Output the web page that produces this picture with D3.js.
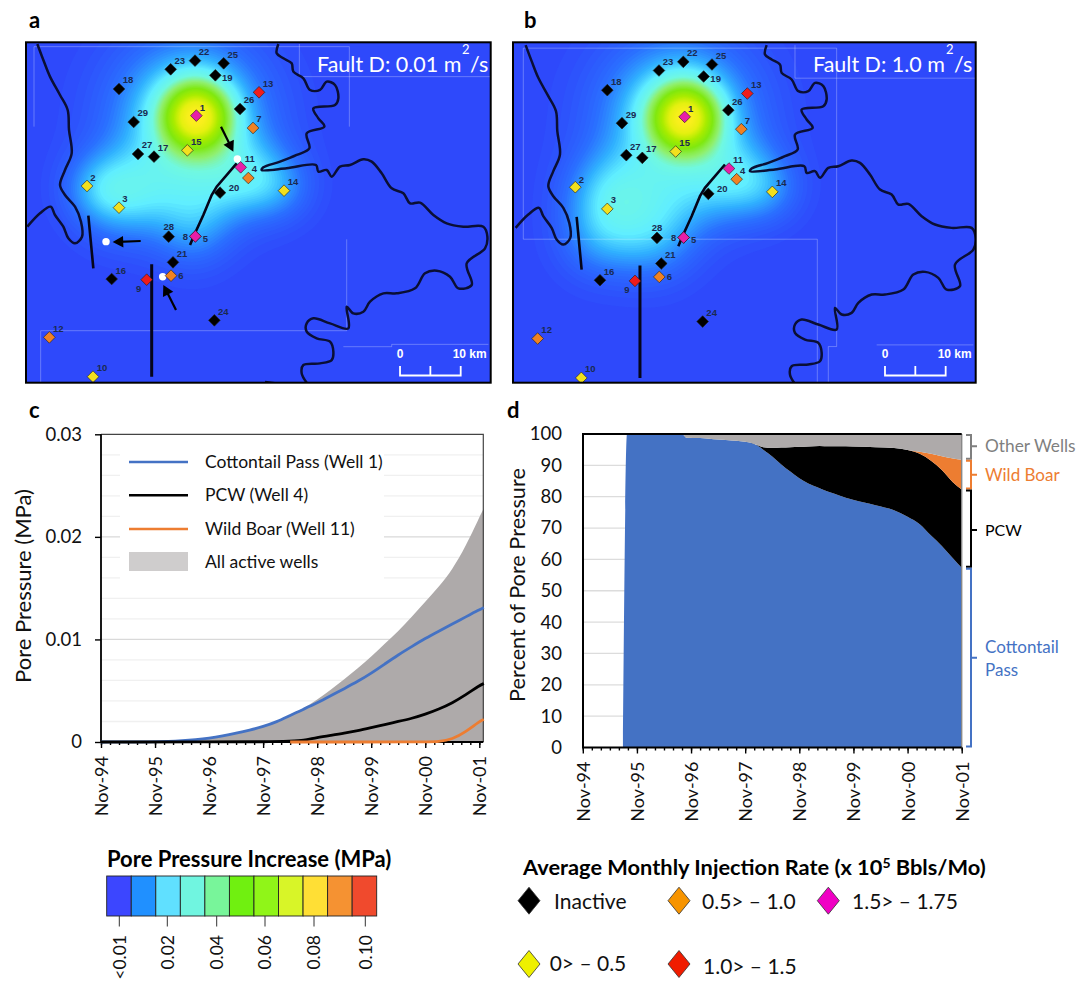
<!DOCTYPE html>
<html>
<head>
<meta charset="utf-8">
<script src="https://cdn.jsdelivr.net/npm/d3@7"></script>
<style>
  html, body { margin: 0; padding: 0; background: #fff; }
  svg { display: block; }
  text { font-family: Lato, "Open Sans", sans-serif; fill: #111; }
</style>
</head>
<body>
<svg id="fig" width="1088" height="985"></svg>
<script>
// ---- Map data (map grid units, 18.2 units = 1 km) ----
const wellIds = d3.range(1, 30);
const wellX = [529, 201, 297, 685, 526, 453, 699, 526, 380, 219, 662, 88, 717, 792, 502, 275, 402, 297, 586, 600, 459, 525, 452, 583, 611, 660, 354, 446, 341];
const wellY = [257, 468, 533, 444, 619, 737, 294, 619, 749, 1040, 412, 922, 187, 482, 361, 747, 380, 177, 136, 488, 697, 92, 118, 871, 100, 237, 372, 620, 276];
// injection class per well: 0 inactive, 1 0-0.5, 2 0.5-1.0, 3 1.0-1.5, 4 1.5-1.75
const wellClass = [4, 1, 1, 2, 4, 2, 2, 4, 3, 1, 4, 2, 3, 1, 1, 0, 0, 0, 0, 0, 0, 0, 0, 0, 0, 0, 0, 0, 0];
const classColors = ["#000000", "#f2e01e", "#f08222", "#ee1c1c", "#e81ea8"];

const coastWest = [[52, 42], [70, 90], [90, 140], [120, 195], [143, 240], [147, 300], [155, 370], [135, 420], [120, 465], [135, 495], [165, 530], [183, 575], [186, 620], [165, 640], [145, 625], [130, 590], [105, 555], [92, 530], [60, 550], [22, 590]];
const coastEast = [[775, 42], [770, 70], [790, 85], [815, 100], [820, 125], [850, 145], [870, 180], [900, 180], [920, 155], [945, 165], [955, 205], [945, 225], [880, 235], [895, 265], [913, 290], [860, 310], [868, 355], [830, 375], [780, 395], [730, 412], [725, 420], [800, 415], [888, 405], [895, 425], [920, 420], [935, 440], [960, 410], [990, 405], [1030, 388], [1055, 395], [1085, 430], [1115, 475], [1150, 490], [1170, 520], [1200, 518], [1240, 555], [1280, 580], [1330, 590], [1390, 590], [1402, 620], [1395, 655], [1340, 700], [1355, 765], [1315, 775], [1290, 740], [1250, 722], [1215, 730], [1185, 775], [1130, 790], [1090, 790], [1050, 815], [1030, 845], [1000, 850], [980, 830], [985, 895], [930, 880], [880, 865], [860, 880], [860, 905], [890, 925], [930, 935], [940, 965], [935, 990], [900, 1000], [850, 1005], [845, 1030], [860, 1058]];
const coastSouth = [[735, 1056], [770, 1060]];
const faultLines = [
  [[650, 400], [590, 470], [575, 495], [550, 555], [525, 610], [510, 645]],
  [[205, 557], [220, 715]],
  [[395, 703], [395, 1040]]
];
// pressure lobes: centre, peak (MPa), spread
const lobesA = {
  x: [529, 505, 300, 430, 680, 560, 520, 780, 230],
  y: [257, 255, 490, 470, 440, 480, 600, 470, 470],
  peak: [0.052, 0.028, 0.016, 0.009, 0.015, 0.006, 0.009, 0.008, 0.008],
  spread: [72, 150, 90, 105, 85, 90, 80, 70, 70]
};
const lobesB = {
  x: [529, 505, 300, 430, 680, 550, 430, 270, 780],
  y: [257, 255, 490, 480, 440, 500, 620, 620, 470],
  peak: [0.052, 0.028, 0.016, 0.008, 0.015, 0.005, 0.012, 0.01, 0.008],
  spread: [72, 150, 90, 105, 85, 90, 90, 85, 70]
};
const heatStops = [0, 0.008, 0.016, 0.024, 0.032, 0.04, 0.05, 0.06, 0.07, 0.08];
const heatColors = ["#2e49fb", "#2a70ff", "#30b0ff", "#60eeff", "#70f8e0", "#90f070", "#80e810", "#a8ec00", "#e4f010", "#ffee20"];
// faint rectangle edges left in the source images
const ghostA = [[[42, 290], [42, 50], [988, 50], [988, 290]], [[838, 42], [838, 140], [1412, 140]], [[980, 628], [980, 902], [62, 902], [62, 1058]], [[970, 950], [1115, 950], [1115, 943], [1405, 943]]];
const ghostB = [[[45, 51], [45, 624], [927, 624], [927, 1058]], [[45, 51], [985, 51], [985, 946], [960, 946], [960, 1058]], [[860, 42], [860, 141], [1412, 141]], [[1105, 941], [1395, 941]]];
const whiteDots = [[652, 387], [258, 635], [428, 740]];
const arrowLines = [[[603, 290], [640, 365]], [[362, 633], [278, 636]], [[468, 840], [430, 765]]];

// ---- Chart c data (months since Nov-94, MPa) ----
const dateTicks = ["Nov-94", "Nov-95", "Nov-96", "Nov-97", "Nov-98", "Nov-99", "Nov-00", "Nov-01"];
const cottonMonths = [0, 12, 15, 18, 21, 24, 27, 30, 33, 36, 39, 42, 45, 48, 51, 54, 57, 60, 63, 66, 69, 72, 75, 78, 81, 84, 85];
const cottonPressure = [0, 0.00002, 0.00005, 0.00012, 0.00022, 0.00036, 0.00058, 0.00085, 0.00115, 0.0015, 0.00195, 0.0026, 0.0032, 0.0038, 0.0045, 0.0052, 0.0059, 0.0067, 0.0076, 0.0085, 0.0093, 0.0101, 0.0108, 0.0115, 0.0122, 0.0129, 0.0131];
const allMonths = [0, 12, 15, 18, 21, 24, 27, 30, 33, 36, 39, 42, 45, 48, 51, 54, 57, 60, 63, 66, 69, 72, 75, 78, 81, 84, 85];
const allPressure = [0, 0.00002, 0.00005, 0.00012, 0.00022, 0.00036, 0.00058, 0.00085, 0.00115, 0.0015, 0.00195, 0.0026, 0.0033, 0.0041, 0.0051, 0.0061, 0.0072, 0.0083, 0.0096, 0.0108, 0.0122, 0.0137, 0.0151, 0.0168, 0.0191, 0.0219, 0.0228];
const pcwMonths = [0, 42, 45, 48, 51, 54, 57, 60, 63, 66, 69, 72, 75, 78, 81, 84, 85];
const pcwPressure = [0, 0, 0.00015, 0.00045, 0.00065, 0.00085, 0.0011, 0.0014, 0.0017, 0.002, 0.0023, 0.0027, 0.0032, 0.0038, 0.0046, 0.0055, 0.0057];
const wildMonths = [42, 72, 75, 78, 81, 84, 85];
const wildPressure = [0, 0, 0.00003, 0.00026, 0.001, 0.002, 0.0022];

// ---- Chart d data (percent of pore pressure) ----
const pctMonths = [8.9, 9.8, 22, 23, 26, 29, 33, 37, 38.6, 40, 42, 44, 46, 48, 50, 52.5, 54.6, 56.7, 59.9, 64.9, 69, 72, 74.7, 77.2, 79.6, 82.1, 84];
const pctCotton = [0, 100, 100, 98.8, 98.7, 98.3, 97.9, 97.3, 96.4, 95, 92.8, 90.3, 88, 85.9, 84.2, 82.7, 81.5, 80.5, 79, 77.3, 75.7, 73.6, 71.2, 67.6, 64.3, 60.3, 57.3];
const pctPcw = [0, 0, 0, 0, 0, 0, 0, 0, 0.1, 0.8, 2.8, 5.4, 7.8, 10, 11.8, 13.5, 14.6, 15.6, 17, 18.5, 19.8, 21.3, 22.5, 23.9, 24.2, 24.2, 25];
const pctWild = [0, 0, 0, 0, 0, 0, 0, 0, 0, 0, 0, 0, 0, 0, 0, 0, 0, 0, 0, 0, 0, 0, 0.6, 2.2, 4.4, 7.7, 9.5];
const pctOther = [0, 0, 0, 1.2, 1.3, 1.7, 2.1, 2.7, 3.5, 4.2, 4.4, 4.3, 4.2, 4.1, 4, 3.8, 3.9, 3.9, 4, 4.2, 4.5, 5.1, 5.7, 6.3, 7.1, 7.8, 8.2];

// ---- Legend data ----
const barColors = ["#3c46ff", "#2090ff", "#60e0ff", "#70f5e0", "#78f59a", "#70f010", "#90f518", "#d8f528", "#ffdf35", "#f59232", "#f04a2d"];
const barTicks = ["<0.01", "0.02", "0.04", "0.06", "0.08", "0.10"];
const barTickX = [119.3, 167.3, 216.7, 265, 314, 365.3];
const rateLabels = ["Inactive", "0.5> \u2013 1.0", "1.5> \u2013 1.75", "0> \u2013 0.5", "1.0> \u2013 1.5"];
const rateColors = ["#000000", "#f79400", "#f000c4", "#eef000", "#f01c00"];

const svg = d3.select("#fig");

/**
 * Draw one map panel
 */
function drawMap(opts) {
  const mapY = d3.scaleLinear().domain([37, 1058]).range([42.3, 382.7]);
  const wx = d3.scaleLinear().domain([0, 1394]).range([opts.wellLeft, opts.wellLeft + 464.7]);
  const wy = (v) => mapY(v) + opts.shiftY;
  const px = (v) => wx(v - 18);

  const g = svg.append("g").attr("clip-path", `url(#clip${opts.id})`);
  svg.append("clipPath").attr("id", `clip${opts.id}`)
    .append("rect").attr("x", opts.left).attr("y", 42.3)
    .attr("width", opts.right - opts.left).attr("height", 340.4);

  g.append("rect").attr("x", opts.left).attr("y", 42.3)
    .attr("width", opts.right - opts.left).attr("height", 340.4)
    .attr("fill", heatColors[0]);

  // pore pressure field
  const step = 4;
  const nx = Math.ceil(1420 / step), ny = Math.ceil(1080 / step);
  const field = new Float64Array(nx * ny);
  for (let j = 0; j < ny; j++) {
    for (let i = 0; i < nx; i++) {
      let v = 0;
      opts.lobes.x.forEach((lx, k) => {
        const dx = i * step - lx, dy = j * step - opts.lobes.y[k];
        v += opts.lobes.peak[k] * Math.exp(-(dx * dx + dy * dy) / (2 * opts.lobes.spread[k] ** 2));
      });
      field[j * nx + i] = v;
    }
  }
  const heatColor = d3.scaleLinear().domain(heatStops).range(heatColors).clamp(true);
  const levels = d3.range(0.001, 0.09, 0.001);
  const contours = d3.contours().size([nx, ny]).thresholds(levels)(field);
  const path = d3.geoPath(d3.geoTransform({
    point: function (x, y) { this.stream.point(px(x * step), wy(y * step)); }
  }));
  g.append("g").selectAll("path").data(contours).join("path")
    .attr("d", path).attr("fill", (d) => heatColor(d.value));

  // faint edges
  const line = d3.line().x((d) => px(d[0])).y((d) => wy(d[1]));
  g.append("g").selectAll("path").data(opts.ghost).join("path")
    .attr("d", line).attr("fill", "none").attr("stroke", "#ffffff").attr("stroke-opacity", 0.35).attr("stroke-width", 0.8);

  // coast and faults
  const smooth = d3.line().x((d) => px(d[0])).y((d) => wy(d[1])).curve(d3.curveCatmullRom.alpha(0.5));
  g.append("g").selectAll("path").data([coastWest, coastEast, coastSouth]).join("path")
    .attr("d", smooth).attr("fill", "none").attr("stroke", "#0a0f35").attr("stroke-width", 2.5);
  g.append("g").selectAll("path").data(faultLines).join("path")
    .attr("d", line).attr("fill", "none").attr("stroke", "#05051a").attr("stroke-width", (d, i) => (i === 2 ? 3 : 2.6));

  if (opts.markers) {
    g.append("g").selectAll("circle").data(whiteDots).join("circle")
      .attr("cx", (d) => px(d[0])).attr("cy", (d) => wy(d[1])).attr("r", 3.7).attr("fill", "#fff");
    arrowLines.forEach((a) => {
      const x1 = px(a[0][0]), y1 = wy(a[0][1]), x2 = px(a[1][0]), y2 = wy(a[1][1]);
      const ang = Math.atan2(y2 - y1, x2 - x1);
      g.append("line").attr("x1", x1).attr("y1", y1)
        .attr("x2", x2 - 6 * Math.cos(ang)).attr("y2", y2 - 6 * Math.sin(ang))
        .attr("stroke", "#000").attr("stroke-width", 2.2);
      const head = d3.path();
      head.moveTo(x2, y2);
      head.lineTo(x2 - 12 * Math.cos(ang - 0.5), y2 - 12 * Math.sin(ang - 0.5));
      head.lineTo(x2 - 12 * Math.cos(ang + 0.5), y2 - 12 * Math.sin(ang + 0.5));
      head.closePath();
      g.append("path").attr("d", head).attr("fill", "#000");
    });
  }

  // wells, drawn so that the coloured ones sit on top at 5/8
  const wells = wellIds.map((id, i) => ({ id: id, x: wellX[i], y: wellY[i], cls: wellClass[i] }));
  const diamond = d3.symbol(d3.symbolSquare, 68);
  g.append("g").selectAll("path").data(wells).join("path")
    .attr("d", diamond)
    .attr("transform", (d) => `translate(${px(d.x)},${wy(d.y)}) rotate(45)`)
    .attr("fill", (d) => classColors[d.cls])
    .attr("stroke", "#222").attr("stroke-width", 0.6);

  const labelShift = { 1: [6, -8], 2: [6, -8], 3: [6, -9], 4: [6, -9], 5: [10, 2], 6: [10, 0], 7: [6, -9], 8: [-10, 0], 9: [-8, 9], 19: [12, 2], 20: [14, -5], 28: [0, -10] };
  g.append("g").selectAll("text").data(wells).join("text")
    .attr("x", (d) => px(d.x) + (labelShift[d.id] || [9, -9])[0])
    .attr("y", (d) => wy(d.y) + (labelShift[d.id] || [9, -9])[1])
    .attr("text-anchor", "middle").attr("dominant-baseline", "central")
    .attr("font-size", 9.5).attr("font-weight", 700)
    .style("font-family", "'Liberation Sans', sans-serif")
    .style("fill", "#1a2a50")
    .text((d) => d.id);

  // fault note
  svg.append("text").attr("x", opts.noteX).attr("y", 72).attr("font-size", 21.5).style("fill", "#fff").text(opts.note);
  svg.append("text").attr("x", opts.supX).attr("y", 54).attr("font-size", 13).style("fill", "#fff").text("2");
  svg.append("text").attr("x", opts.supX + 8).attr("y", 72).attr("font-size", 21.5).style("fill", "#fff").text("/s");

  // scale bar, 10 km = 182 grid units
  const sb0 = px(opts.barStart), sb1 = px(opts.barStart + 182), sbm = px(opts.barStart + 91);
  const sb = svg.append("g");
  sb.append("path")
    .attr("d", `M${sb0},366 V375.5 H${sb1} V366 M${sbm},366 V375.5`)
    .attr("fill", "none").attr("stroke", "#fff").attr("stroke-width", 1.8);
  sb.append("text").attr("x", sb0).attr("y", 358).attr("text-anchor", "middle").attr("font-size", 12).attr("font-weight", 700)
    .style("fill", "#fff").style("font-family", "'Liberation Sans', sans-serif").text("0");
  sb.append("text").attr("x", sb1 + 9).attr("y", 358).attr("text-anchor", "middle").attr("font-size", 12).attr("font-weight", 700)
    .style("fill", "#fff").style("font-family", "'Liberation Sans', sans-serif").text("10 km");

  svg.append("rect").attr("x", opts.left).attr("y", 42.3)
    .attr("width", opts.right - opts.left).attr("height", 340.4)
    .attr("fill", "none").attr("stroke", "#000").attr("stroke-width", 2);
}

drawMap({ id: "A", left: 26, right: 490.7, wellLeft: 26, shiftY: 0, lobes: lobesA, ghost: ghostA, markers: true,
  note: "Fault D: 0.01 m", noteX: 317, supX: 462, barStart: 1140 });
drawMap({ id: "B", left: 513, right: 975.7, wellLeft: 514.3, shiftY: 1.2, lobes: lobesB, ghost: ghostB, markers: false,
  note: "Fault D: 1.0 m", noteX: 813, supX: 946, barStart: 1130 });

// panel letters
[["a", 29, 28], ["b", 524, 28], ["c", 29, 418], ["d", 507, 418]].forEach((d) => {
  svg.append("text").attr("x", d[1]).attr("y", d[2]).attr("font-size", 22).attr("font-weight", 700).style("fill", "#000").text(d[0]);
});

/**
 * Month axis shared by charts c and d
 */
function drawMonthAxis(g, x, y0) {
  g.append("g").attr("transform", `translate(0,${y0})`)
    .call(d3.axisBottom(x).tickValues(d3.range(0, 85, 2)).tickSize(3).tickFormat(""))
    .call((a) => a.select(".domain").remove());
  const major = g.append("g").attr("transform", `translate(0,${y0})`)
    .call(d3.axisBottom(x).tickValues(dateTicks.map((d, i) => i * 12)).tickSize(6).tickFormat((d, i) => dateTicks[i]));
  major.select(".domain").remove();
  g.selectAll(".tick line").attr("stroke", "#000").attr("stroke-width", 1.4);
  major.selectAll("text")
    .attr("font-size", 18).attr("text-anchor", "end")
    .attr("transform", "rotate(-90)")
    .attr("x", -14).attr("y", 0).attr("dy", "0.36em");
}

// ---- Chart c ----
const xC = d3.scaleLinear().domain([0, 84]).range([101, 479.3]);
const yC = d3.scaleLinear().domain([0, 0.03]).range([742, 434.3]);
const c = svg.append("g");
const cRight = 483.3;

c.append("g").selectAll("line").data(d3.range(0.002, 0.03, 0.002)).join("line")
  .attr("x1", 101).attr("x2", cRight)
  .attr("y1", (d) => yC(d)).attr("y2", (d) => yC(d))
  .attr("stroke", (d, i) => ((i + 1) % 5 === 0 ? "#d9d9d9" : "#f0f0f0")).attr("stroke-width", 1.3);

c.append("path")
  .datum(d3.zip(allMonths, allPressure))
  .attr("d", d3.area().x((d) => xC(d[0])).y0(yC(0)).y1((d) => yC(d[1])).curve(d3.curveBasis))
  .attr("fill", "#aeaaaa");

// legend box hides the gridlines behind it
c.append("rect").attr("x", 120).attr("y", 442).attr("width", 264).attr("height", 140).attr("fill", "#fff");
const legendC = [["Cottontail Pass (Well 1)", "#4472c4", 462], ["PCW (Well 4)", "#000", 495.3], ["Wild Boar (Well 11)", "#ed7d31", 529]];
legendC.forEach((l) => {
  c.append("line").attr("x1", 129).attr("x2", 188).attr("y1", l[2]).attr("y2", l[2]).attr("stroke", l[1]).attr("stroke-width", 2.4);
  c.append("text").attr("x", 205).attr("y", l[2] + 6).attr("font-size", 17.5).text(l[0]);
});
c.append("rect").attr("x", 129).attr("y", 552).attr("width", 59).attr("height", 19).attr("fill", "#cfcdcd");
c.append("text").attr("x", 205).attr("y", 568).attr("font-size", 17.5).text("All active wells");

c.append("g").attr("transform", "translate(101,0)")
  .call(d3.axisLeft(yC).tickValues([0, 0.01, 0.02, 0.03]).tickSize(6).tickPadding(13).tickFormat((d) => (d === 0 ? "0" : d.toFixed(2))))
  .call((a) => a.select(".domain").remove())
  .call((a) => a.selectAll("line").attr("stroke", "#000").attr("stroke-width", 1.2))
  .call((a) => a.selectAll("text").attr("font-size", 18.5));
drawMonthAxis(c, xC, 742);
c.append("path").attr("d", `M101,434.3 H${cRight} V742`).attr("fill", "none").attr("stroke", "#444").attr("stroke-width", 1.2);
c.append("path").attr("d", `M101,434.3 V742 H${cRight}`).attr("fill", "none").attr("stroke", "#000").attr("stroke-width", 1.8);

// lines go over the frame, the zero run of Wild Boar lies on the axis
const lineC = d3.line().x((d) => xC(d[0])).y((d) => yC(d[1])).curve(d3.curveBasis);
[[cottonMonths, cottonPressure, "#4472c4"], [pcwMonths, pcwPressure, "#000"], [wildMonths, wildPressure, "#ed7d31"]].forEach((s) => {
  c.append("path").datum(d3.zip(s[0], s[1])).attr("d", lineC)
    .attr("fill", "none").attr("stroke", s[2]).attr("stroke-width", 2.8);
});
c.append("text").attr("transform", "translate(31,586) rotate(-90)").attr("text-anchor", "middle").attr("font-size", 22).text("Pore Pressure (MPa)");

// ---- Chart d ----
const xD = d3.scaleLinear().domain([0, 84]).range([582.8, 961.7]);
const yD = d3.scaleLinear().domain([0, 100]).range([747.5, 434]);
const d = svg.append("g");
d.append("g").selectAll("line").data(d3.range(10, 100, 10)).join("line")
  .attr("x1", 583).attr("x2", 640)
  .attr("y1", (v) => yD(v)).attr("y2", (v) => yD(v))
  .attr("stroke", "#dcdcdc").attr("stroke-width", 1.3);

const pctRows = pctMonths.map((m, i) => ({ month: m, cotton: pctCotton[i], pcw: pctPcw[i], wild: pctWild[i], other: pctOther[i] }));
const stack = d3.stack().keys(["cotton", "pcw", "wild", "other"])(pctRows);
const stackColors = { cotton: "#4472c4", pcw: "#000000", wild: "#ed7d31", other: "#aeaaaa" };
d.append("g").selectAll("path").data(stack).join("path")
  .attr("d", d3.area().x((r) => xD(r.data.month)).y0((r) => yD(r[0])).y1((r) => yD(r[1])).curve(d3.curveMonotoneX))
  .attr("fill", (s) => stackColors[s.key]);

d.append("g").attr("transform", "translate(583,0)")
  .call(d3.axisLeft(yD).tickValues(d3.range(0, 101, 10)).tickSize(0).tickPadding(21))
  .call((a) => a.select(".domain").remove())
  .call((a) => a.selectAll("text").attr("font-size", 18.5));
drawMonthAxis(d, xD, 747.5);
d.append("path").attr("d", "M961.7,434 V747.5").attr("stroke", "#888").attr("stroke-width", 1.4);
d.append("path").attr("d", "M961.7,434 H583 V747.5 H961.7").attr("fill", "none").attr("stroke", "#000").attr("stroke-width", 2);
d.append("text").attr("transform", "translate(525,585) rotate(-90)").attr("text-anchor", "middle").attr("font-size", 21.7).text("Percent of Pore Pressure");

// brackets to the right of chart d, from the last stacked values
const bracketTop = [100, 91.8, 82.3, 57.3];
const bracketBottom = [91.8, 82.3, 57.3, 0];
const bracketTip = [96.1, 87, 69.4, 28.6];
const bracketColors = ["#7f7f7f", "#ed7d31", "#000000", "#4472c4"];
bracketTop.forEach((t, i) => {
  const y0 = yD(t) + 1, y1 = yD(bracketBottom[i]) - 1, ym = yD(bracketTip[i]);
  d.append("path").attr("d", `M966,${y0} H971 V${y1} H966 M971,${ym} H977`)
    .attr("fill", "none").attr("stroke", bracketColors[i]).attr("stroke-width", 2);
});
[["Other Wells", 452, "#7f7f7f", 17.3], ["Wild Boar", 481, "#ed7d31", 17], ["PCW", 536, "#000", 16], ["Cottontail", 653, "#4472c4", 17], ["Pass", 676, "#4472c4", 17]].forEach((l) => {
  d.append("text").attr("x", 985).attr("y", l[1]).attr("font-size", l[3]).style("fill", l[2]).text(l[0]);
});

// ---- Colour bar ----
const bar = svg.append("g");
const barX = d3.scaleBand().domain(d3.range(barColors.length)).range([106.7, 376.7]);
bar.selectAll("rect").data(barColors).join("rect")
  .attr("x", (c, i) => barX(i)).attr("y", 876).attr("width", barX.bandwidth()).attr("height", 40)
  .attr("fill", (c) => c).attr("stroke", "#222").attr("stroke-width", 0.9);
bar.selectAll("line").data(barTickX).join("line")
  .attr("x1", (v) => v).attr("x2", (v) => v).attr("y1", 916).attr("y2", 926.5)
  .attr("stroke", "#333").attr("stroke-width", 1);
bar.selectAll("text.tk").data(barTicks).join("text").attr("class", "tk")
  .attr("transform", (t, i) => `translate(${barTickX[i]},935) rotate(-90)`)
  .attr("text-anchor", "end").attr("dy", "0.36em").attr("font-size", 17.5).text((t) => t);
svg.append("text").attr("x", 107).attr("y", 867).attr("font-size", 22).attr("font-weight", 700).style("fill", "#000").text("Pore Pressure Increase (MPa)");

// ---- Injection rate legend ----
const rateTitle = svg.append("text").attr("x", 523).attr("y", 875).attr("font-size", 21.8).attr("font-weight", 700).style("fill", "#000");
rateTitle.append("tspan").text("Average Monthly Injection Rate (x 10");
rateTitle.append("tspan").attr("font-size", 14).attr("dy", -7).text("5");
rateTitle.append("tspan").attr("dy", 7).text(" Bbls/Mo)");
const rateX = [529, 679, 828.3, 529, 679];
const rateY = [900.7, 900.7, 900.7, 964, 964];
const rateTextX = [554, 702, 852, 549.7, 703];
const rateTextY = [909, 909, 909, 971, 974];
const rateDiamond = d3.line()([[0, -13.5], [11, 0], [0, 13.5], [-11, 0]]) + "Z";
rateColors.forEach((col, i) => {
  svg.append("path").attr("d", rateDiamond).attr("transform", `translate(${rateX[i]},${rateY[i]})`)
    .attr("fill", col).attr("stroke", "#333").attr("stroke-width", 0.8);
  svg.append("text").attr("x", rateTextX[i]).attr("y", rateTextY[i]).attr("font-size", 21).text(rateLabels[i]);
});
</script>
</body>
</html>
